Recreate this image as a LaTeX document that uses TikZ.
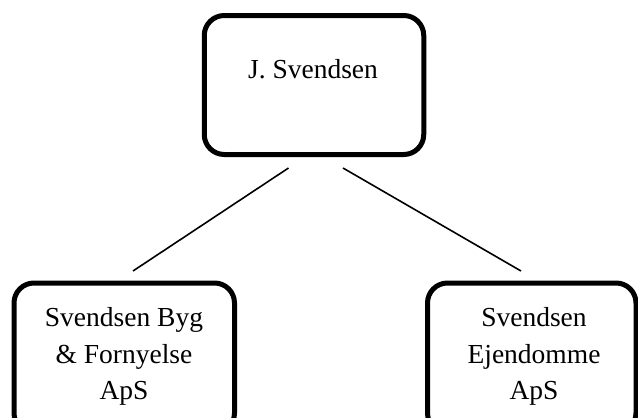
\documentclass[tikz,border=0pt]{standalone}
\usepackage{fontspec}
\setmainfont{Liberation Serif}
\begin{document}
\begin{tikzpicture}[x=1pt,y=-1pt,
  orgbox/.style={draw=black, line width=5pt, rounded corners=20pt, rectangle, inner sep=0pt, fill=none},
  orgtext/.style={font=\fontsize{27.5}{36.3}\selectfont, align=center, inner sep=0pt, anchor=base},
  link/.style={draw=black, line width=1.6pt}]
  \clip (0,0) rectangle (638,418);
  \fill[white] (0,0) rectangle (638,418);
  % boxes
  \node[orgbox, minimum width=219.5pt, minimum height=139pt] (owner) at (314,85) {};
  \node[orgbox, minimum width=220.5pt, minimum height=150pt] (byg) at (124.25,358) {};
  \node[orgbox, minimum width=208.5pt, minimum height=150pt] (ejd) at (531.75,358) {};
  % texts (base anchor sits on the last line)
  \node[orgtext] (ownerT) at (313,78) {J. Svendsen};
  \node[orgtext] (bygT) at (124,399.5) {Svendsen Byg\\ \& Fornyelse\\ ApS};
  \node[orgtext] (ejdT) at (534,399.5) {Svendsen\\ Ejendomme\\ ApS};
  % connectors
  \coordinate (l1) at (288.5,168);
  \coordinate (l2) at (133,271);
  \coordinate (r1) at (343,168);
  \coordinate (r2) at (521,271);
  \draw[link] (l1) -- (l2);
  \draw[link] (r1) -- (r2);
\end{tikzpicture}
\end{document}
